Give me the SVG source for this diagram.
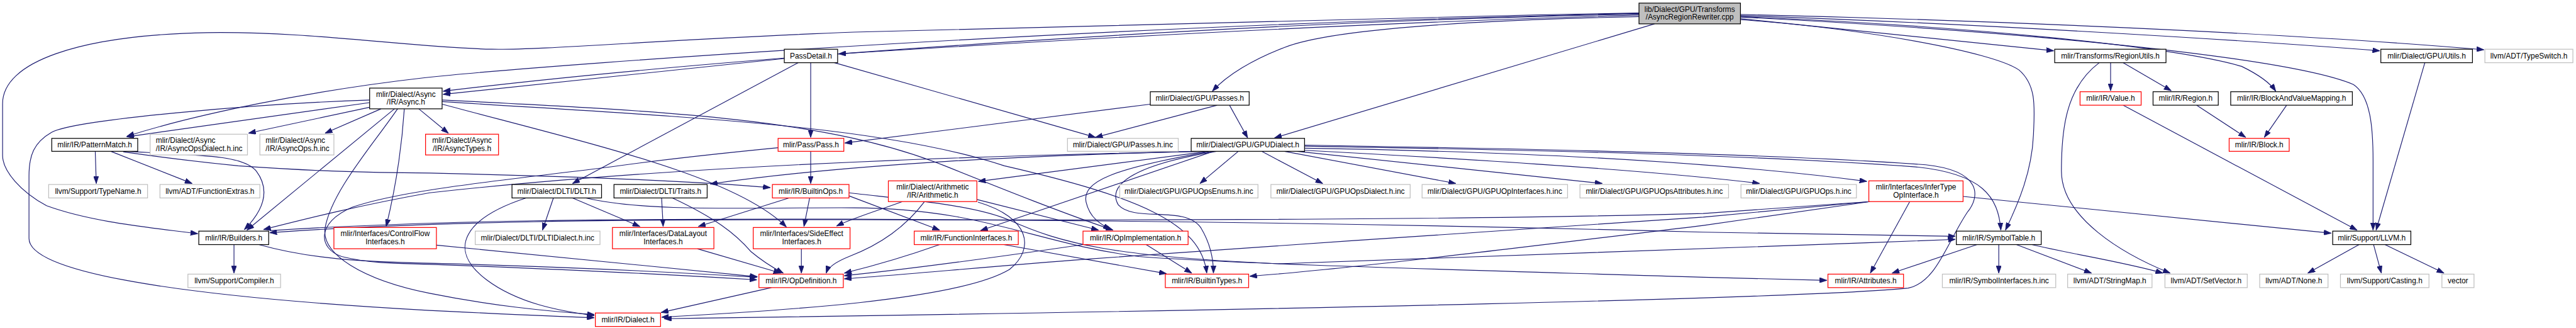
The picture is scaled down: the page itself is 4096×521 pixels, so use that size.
<svg xmlns="http://www.w3.org/2000/svg" width="4096" height="521" viewBox="0 0 4096 521">
<style>
.b{fill:#fff;stroke:#000;stroke-width:1.5}
.g{fill:#fff;stroke:#bfbfbf;stroke-width:1.5}
.r{fill:#fff;stroke:#ff0000;stroke-width:1.5}
.m{fill:#bfbfbf;stroke:#000;stroke-width:1.5}
text{font-family:"Liberation Sans",Arial,sans-serif;font-size:14.5px;fill:#000;text-anchor:middle}
.l{text-anchor:start}
#edges path{fill:none;stroke:#191970;stroke-width:1.4;marker-end:url(#a)}
</style>
<defs>
<marker id="a" markerUnits="userSpaceOnUse" markerWidth="15" markerHeight="10" refX="14" refY="5" orient="auto" viewBox="0 0 15 10">
<path d="M0,0 L14,5 L0,10 z" fill="#191970" stroke="#191970"/>
</marker>
</defs>
<rect width="4096" height="521" fill="#fff"/>
<g transform="scale(0.82315)">
<g id="edges">
<path d="M3166,29 C2600,45 2000,80 1620,104"/>
<path d="M3166,27 C2400,42 1400,110 856,176"/>
<path d="M3166,26 C2200,45 1100,120 820,150 C600,175 380,220 245,263"/>
<path d="M3166,25 C2600,35 2000,50 1650,62 C1300,75 1050,97 950,95 C800,92 600,60 400,63 C150,68 5,120 5,200 L5,300 C5,330 40,370 90,397 C180,430 300,440 382,451"/>
<path d="M3166,32 C2800,40 2560,60 2480,92 C2420,115 2370,145 2342,176"/>
<path d="M3196,46 L2462,266"/>
<path d="M3362,36 L3967,98"/>
<path d="M3362,28 C3800,38 4400,62 4798,96"/>
<path d="M3362,30 C3800,45 4300,75 4597,98"/>
<path d="M3362,32 C3800,50 4200,90 4330,128 C4365,145 4385,160 4396,176"/>
<path d="M3362,33 C3900,60 4420,110 4546,163 C4580,185 4584,250 4584,310 L4584,444"/>
<path d="M3362,38 C3600,55 3850,100 3900,135 C3935,165 3930,210 3928,260 C3925,330 3900,390 3874,444"/>
<path d="M1515,113 L856,182"/>
<path d="M1542,121 L1106,354"/>
<path d="M1566,121 L1566,265"/>
<path d="M1612,121 L2116,265"/>
<path d="M714,198 L245,264"/>
<path d="M714,207 L480,257"/>
<path d="M736,210 L628,257"/>
<path d="M809,210 L866,257"/>
<path d="M762,210 L477,444"/>
<path d="M781,210 C775,300 760,380 746,437"/>
<path d="M768,210 C720,280 640,370 628,440 C620,490 700,540 830,566 C950,590 1050,600 1148,607"/>
<path d="M714,193 C500,200 150,230 100,255 C65,275 56,300 56,340 L56,460 C56,520 300,570 830,599 C950,605 1050,610 1148,613"/>
<path d="M854,193 C1300,215 1600,230 1825,320 C1950,370 2050,410 2150,444"/>
<path d="M854,196 C1300,225 1700,240 1940,320 C2200,380 2320,430 2331,527"/>
<path d="M854,201 C1150,280 1420,340 1519,438"/>
<path d="M1566,292 L1566,354"/>
<path d="M1503,285 C1350,300 1250,312 1180,322 C1000,345 780,365 680,400 C610,430 615,480 660,495 C720,510 780,508 830,510 C1100,520 1300,530 1462,540"/>
<path d="M2351,203 L2116,265"/>
<path d="M2375,203 L2410,266"/>
<path d="M2222,201 L1632,276"/>
<path d="M2310,292 C2000,300 1650,315 1372,355"/>
<path d="M2335,292 L1890,350"/>
<path d="M2330,292 C1900,300 1300,320 830,372 C700,395 600,420 509,443"/>
<path d="M2344,292 L1894,445"/>
<path d="M2340,292 C2150,325 2090,350 2098,390 C2105,420 2125,432 2145,443"/>
<path d="M2350,292 C2180,320 2140,360 2160,395 C2190,430 2290,395 2320,440 C2338,470 2344,500 2344,527"/>
<path d="M2392,292 L2318,354"/>
<path d="M2437,292 L2555,354"/>
<path d="M2481,292 L2812,354"/>
<path d="M2505,292 L3095,354"/>
<path d="M2520,290 C2900,310 3200,330 3399,354"/>
<path d="M2520,286 C2900,292 3300,310 3606,350"/>
<path d="M2520,282 C3000,290 3400,300 3700,322 C3830,335 3860,380 3865,444"/>
<path d="M2520,280 C3000,288 3450,298 3720,318 C3830,330 3825,380 3800,410 C3760,470 3740,545 3686,556 C3500,575 2500,598 1283,615"/>
<path d="M184,292 L186,354"/>
<path d="M214,292 L371,354"/>
<path d="M240,292 C400,300 470,300 495,330 C525,370 505,410 472,443"/>
<path d="M238,293 C300,302 400,314 460,320 C600,330 700,333 830,334 C1100,340 1350,350 1488,362"/>
<path d="M452,472 L452,527"/>
<path d="M500,472 C600,500 700,505 830,508 C1100,515 1300,525 1462,535"/>
<path d="M843,473 L1463,534"/>
<path d="M1016,382 C900,420 860,480 940,540 C1000,585 1080,600 1148,609"/>
<path d="M1069,382 L1048,444"/>
<path d="M1106,382 L1236,437"/>
<path d="M1132,382 C1250,410 1450,400 1650,401 C1900,402 2000,470 2200,495 C2400,510 2800,520 3290,535 L3529,541"/>
<path d="M1278,382 L1281,437"/>
<path d="M1299,382 C1380,420 1420,450 1450,485 C1480,510 1500,520 1513,527"/>
<path d="M1524,382 L1349,437"/>
<path d="M1564,382 L1553,437"/>
<path d="M1640,378 L1815,444"/>
<path d="M1640,372 C1750,385 1880,395 1950,425 C2050,470 2150,495 2470,509 C2800,500 3300,480 3777,462"/>
<path d="M1347,480 L1508,527"/>
<path d="M1548,480 L1548,527"/>
<path d="M1490,555 L1277,603"/>
<path d="M1743,389 C1700,405 1650,420 1616,436"/>
<path d="M1786,389 C1740,450 1680,480 1640,495 C1615,505 1600,515 1596,527"/>
<path d="M1887,385 L2122,444"/>
<path d="M1889,390 C1990,420 2000,480 1950,520 C1850,580 1500,600 1278,612"/>
<path d="M1815,472 C1750,495 1700,510 1631,527"/>
<path d="M1939,472 L2253,528"/>
<path d="M2092,472 C1900,500 1750,520 1631,532"/>
<path d="M2214,472 L2302,527"/>
<path d="M3612,389 L3290,412 C3000,420 2460,426 1640,424 C1200,423 830,427 521,449"/>
<path d="M3612,389 L3290,419 C3000,440 2460,473 2100,500 C1900,515 1750,530 1631,538"/>
<path d="M3612,389 L3290,435 C3000,470 2600,520 2414,533"/>
<path d="M3689,389 L3613,527"/>
<path d="M3792,379 C4000,400 4200,420 4503,450"/>
<path d="M521,445 C830,425 1200,422 1640,423 C2460,426 3000,440 3290,448 L3777,456"/>
<path d="M3819,472 L3655,527"/>
<path d="M3861,472 L3861,527"/>
<path d="M3895,472 L4040,527"/>
<path d="M3925,472 C4000,490 4100,505 4178,527"/>
<path d="M4055,121 C3990,170 3982,250 3982,330 C3982,420 4100,490 4192,527"/>
<path d="M4077,121 L4077,175"/>
<path d="M4101,121 L4194,175"/>
<path d="M4101,203 L4553,444"/>
<path d="M4243,203 L4338,265"/>
<path d="M4417,203 L4374,265"/>
<path d="M4684,121 L4590,444"/>
<path d="M4557,472 L4458,527"/>
<path d="M4585,472 L4600,527"/>
<path d="M4607,472 L4721,527"/>
</g>
<g id="n_cpp"><rect class="m" x="3166" y="6" width="196" height="40"/><text x="3264" y="23">lib/Dialect/GPU/Transforms</text><text x="3264" y="38">/AsyncRegionRewriter.cpp</text></g>
<g id="n_passdetail"><rect class="b" x="1515" y="95" width="103" height="26"/><text x="1566.5" y="113">PassDetail.h</text></g>
<g id="n_regionutils"><rect class="b" x="3969" y="95" width="215" height="26"/><text x="4076.5" y="113">mlir/Transforms/RegionUtils.h</text></g>
<g id="n_gpuutils"><rect class="b" x="4599" y="95" width="177" height="26"/><text x="4687.5" y="113">mlir/Dialect/GPU/Utils.h</text></g>
<g id="n_typeswitch"><rect class="g" x="4800" y="95" width="170" height="26"/><text x="4885" y="113">llvm/ADT/TypeSwitch.h</text></g>
<g id="n_async"><rect class="b" x="714" y="170" width="140" height="40"/><text x="784" y="187">mlir/Dialect/Async</text><text x="784" y="202">/IR/Async.h</text></g>
<g id="n_gpupasses"><rect class="b" x="2222" y="177" width="191" height="26"/><text x="2317.5" y="195">mlir/Dialect/GPU/Passes.h</text></g>
<g id="n_value"><rect class="r" x="4018" y="177" width="118" height="26"/><text x="4077" y="195">mlir/IR/Value.h</text></g>
<g id="n_region"><rect class="b" x="4159" y="177" width="126" height="26"/><text x="4222" y="195">mlir/IR/Region.h</text></g>
<g id="n_bavm"><rect class="b" x="4309" y="177" width="235" height="26"/><text x="4426.5" y="195">mlir/IR/BlockAndValueMapping.h</text></g>
<g id="n_patternmatch"><rect class="b" x="100" y="267" width="166" height="25"/><text x="183" y="284.5">mlir/IR/PatternMatch.h</text></g>
<g id="n_asyncopsdialect"><rect class="g" x="290" y="259" width="188" height="40"/><text class="l" x="301" y="276">mlir/Dialect/Async</text><text class="l" x="301" y="291">/IR/AsyncOpsDialect.h.inc</text></g>
<g id="n_asyncops"><rect class="g" x="502" y="259" width="143" height="40"/><text class="l" x="513" y="276">mlir/Dialect/Async</text><text class="l" x="513" y="291">/IR/AsyncOps.h.inc</text></g>
<g id="n_asynctypes"><rect class="r" x="822" y="259" width="141" height="40"/><text x="892.5" y="276">mlir/Dialect/Async</text><text x="892.5" y="291">/IR/AsyncTypes.h</text></g>
<g id="n_pass"><rect class="r" x="1503" y="267" width="127" height="25"/><text x="1566.5" y="284.5">mlir/Pass/Pass.h</text></g>
<g id="n_passesinc"><rect class="g" x="2062" y="267" width="214" height="25"/><text x="2169" y="284.5">mlir/Dialect/GPU/Passes.h.inc</text></g>
<g id="n_gpudialect"><rect class="b" x="2301" y="267" width="219" height="25"/><text x="2410.5" y="284.5">mlir/Dialect/GPU/GPUDialect.h</text></g>
<g id="n_block"><rect class="r" x="4306" y="267" width="116" height="25"/><text x="4364" y="284.5">mlir/IR/Block.h</text></g>
<g id="n_typename"><rect class="g" x="94" y="356" width="191" height="26"/><text x="189.5" y="374">llvm/Support/TypeName.h</text></g>
<g id="n_functionextras"><rect class="g" x="309" y="356" width="193" height="26"/><text x="405.5" y="374">llvm/ADT/FunctionExtras.h</text></g>
<g id="n_dlti"><rect class="b" x="989" y="356" width="173" height="26"/><text x="1075.5" y="374">mlir/Dialect/DLTI/DLTI.h</text></g>
<g id="n_traits"><rect class="b" x="1186" y="356" width="180" height="26"/><text x="1276" y="374">mlir/Dialect/DLTI/Traits.h</text></g>
<g id="n_builtinops"><rect class="r" x="1492" y="356" width="148" height="26"/><text x="1566" y="374">mlir/IR/BuiltinOps.h</text></g>
<g id="n_arith"><rect class="r" x="1716" y="349" width="171" height="40"/><text x="1801.5" y="366">mlir/Dialect/Arithmetic</text><text x="1801.5" y="381">/IR/Arithmetic.h</text></g>
<g id="n_enums"><rect class="g" x="2163" y="356" width="267" height="26"/><text x="2296.5" y="374">mlir/Dialect/GPU/GPUOpsEnums.h.inc</text></g>
<g id="n_opsdialect"><rect class="g" x="2455" y="356" width="269" height="26"/><text x="2589.5" y="374">mlir/Dialect/GPU/GPUOpsDialect.h.inc</text></g>
<g id="n_opinterfaces"><rect class="g" x="2747" y="356" width="281" height="26"/><text x="2887.5" y="374">mlir/Dialect/GPU/GPUOpInterfaces.h.inc</text></g>
<g id="n_opsattrs"><rect class="g" x="3052" y="356" width="287" height="26"/><text x="3195.5" y="374">mlir/Dialect/GPU/GPUOpsAttributes.h.inc</text></g>
<g id="n_gpuops"><rect class="g" x="3363" y="356" width="223" height="26"/><text x="3474.5" y="374">mlir/Dialect/GPU/GPUOps.h.inc</text></g>
<g id="n_infertype"><rect class="r" x="3610" y="349" width="182" height="40"/><text x="3701" y="366">mlir/Interfaces/InferType</text><text x="3701" y="381">OpInterface.h</text></g>
<g id="n_builders"><rect class="b" x="384" y="446" width="135" height="26"/><text x="451.5" y="464">mlir/IR/Builders.h</text></g>
<g id="n_controlflow"><rect class="r" x="645" y="439" width="198" height="41"/><text x="744" y="456">mlir/Interfaces/ControlFlow</text><text x="744" y="471">Interfaces.h</text></g>
<g id="n_dltidialect"><rect class="g" x="918" y="446" width="241" height="26"/><text x="1038.5" y="464">mlir/Dialect/DLTI/DLTIDialect.h.inc</text></g>
<g id="n_datalayout"><rect class="r" x="1183" y="439" width="196" height="41"/><text x="1281" y="456">mlir/Interfaces/DataLayout</text><text x="1281" y="471">Interfaces.h</text></g>
<g id="n_sideeffect"><rect class="r" x="1455" y="439" width="187" height="41"/><text x="1548.5" y="456">mlir/Interfaces/SideEffect</text><text x="1548.5" y="471">Interfaces.h</text></g>
<g id="n_funcifaces"><rect class="r" x="1766" y="446" width="201" height="26"/><text x="1866.5" y="464">mlir/IR/FunctionInterfaces.h</text></g>
<g id="n_opimpl"><rect class="r" x="2092" y="446" width="203" height="26"/><text x="2193.5" y="464">mlir/IR/OpImplementation.h</text></g>
<g id="n_symboltable"><rect class="b" x="3779" y="446" width="164" height="26"/><text x="3861" y="464">mlir/IR/SymbolTable.h</text></g>
<g id="n_llvm"><rect class="b" x="4506" y="446" width="151" height="26"/><text x="4581.5" y="464">mlir/Support/LLVM.h</text></g>
<g id="n_compiler"><rect class="g" x="363" y="529" width="179" height="26"/><text x="452.5" y="547">llvm/Support/Compiler.h</text></g>
<g id="n_opdef"><rect class="r" x="1466" y="529" width="163" height="26"/><text x="1547.5" y="547">mlir/IR/OpDefinition.h</text></g>
<g id="n_builtintypes"><rect class="r" x="2251" y="529" width="161" height="26"/><text x="2331.5" y="547">mlir/IR/BuiltinTypes.h</text></g>
<g id="n_attributes"><rect class="r" x="3531" y="529" width="146" height="26"/><text x="3604" y="547">mlir/IR/Attributes.h</text></g>
<g id="n_symifaces"><rect class="g" x="3752" y="529" width="219" height="26"/><text x="3861.5" y="547">mlir/IR/SymbolInterfaces.h.inc</text></g>
<g id="n_stringmap"><rect class="g" x="3994" y="529" width="163" height="26"/><text x="4075.5" y="547">llvm/ADT/StringMap.h</text></g>
<g id="n_setvector"><rect class="g" x="4182" y="529" width="159" height="26"/><text x="4261.5" y="547">llvm/ADT/SetVector.h</text></g>
<g id="n_none"><rect class="g" x="4365" y="529" width="132" height="26"/><text x="4431" y="547">llvm/ADT/None.h</text></g>
<g id="n_casting"><rect class="g" x="4521" y="529" width="171" height="26"/><text x="4606.5" y="547">llvm/Support/Casting.h</text></g>
<g id="n_vector"><rect class="g" x="4717" y="529" width="62" height="26"/><text x="4748" y="547">vector</text></g>
<g id="n_dialect"><rect class="r" x="1150" y="604" width="126" height="26"/><text x="1213" y="622">mlir/IR/Dialect.h</text></g>
</g>
</svg>
